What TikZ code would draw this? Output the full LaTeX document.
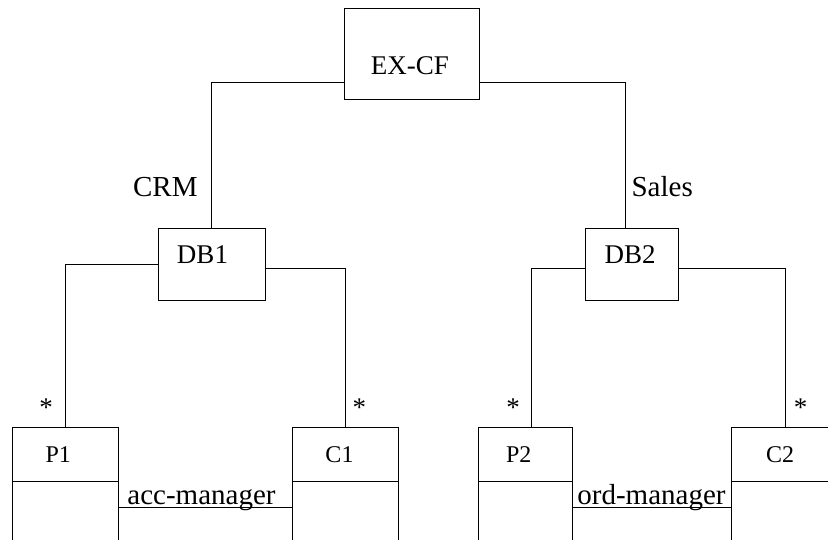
\documentclass[tikz,border=0pt]{standalone}
\usepackage{fontspec}
\setmainfont{Liberation Serif}
\begin{document}
\begin{tikzpicture}[x=1pt,y=-1pt,
  line width=1pt,
  boxnode/.style={draw, line width=1pt, inner sep=0pt, anchor=north west},
  boxtext/.style={inner sep=0pt, anchor=base, font=\fontsize{27}{32}\selectfont},
  classtext/.style={inner sep=0pt, anchor=base, font=\fontsize{24}{29}\selectfont},
  edgetext/.style={inner sep=0pt, anchor=base, font=\fontsize{29}{34}\selectfont},
  startext/.style={inner sep=0pt, anchor=base, font=\fontsize{27}{32}\selectfont},
  conn/.style={draw, line width=1pt}]
\useasboundingbox (0,0) rectangle (828,540);
\clip (0,0) rectangle (828,540);

% boxes
\node[boxnode, minimum width=134.4pt, minimum height=91pt] (excf) at (344.3,7.7) {};
\node[boxnode, minimum width=107.3pt, minimum height=72.3pt] (db1) at (157.7,227.7) {};
\node[boxnode, minimum width=93.6pt, minimum height=72.3pt] (db2) at (584.7,227.7) {};
\node[boxnode, minimum width=106.3pt, minimum height=152.7pt] (p1) at (11.7,427.3) {};
\node[boxnode, minimum width=106.6pt, minimum height=152.7pt] (c1) at (291.7,427.3) {};
\node[boxnode, minimum width=93.7pt, minimum height=152.7pt] (p2) at (478,427.3) {};
\node[boxnode, minimum width=107.4pt, minimum height=152.7pt] (c2) at (731.3,427.3) {};

% class dividers
\foreach \n in {p1,c1,p2,c2}{
  \draw ([yshift=-53.7pt]\n.north west) -- ([yshift=-53.7pt]\n.north east);
}

% box texts
\node[boxtext] (texcf) at (410,75) {EX-CF};
\node[boxtext] (tdb1) at (202.5,263.3) {DB1};
\node[boxtext] (tdb2) at (630.2,263.3) {DB2};
\node[classtext] (tp1) at (58.3,462.7) {P1};
\node[classtext] (tc1) at (339.5,462.7) {C1};
\node[classtext] (tp2) at (518.8,462.7) {P2};
\node[classtext] (tc2) at (780.2,462.7) {C2};

% connectors
\draw[conn] ([yshift=-29.1pt]excf.west) -| (db1.north);
\draw[conn] ([yshift=-29.1pt]excf.east) -| ([xshift=-6.9pt]db2.north);
\draw[conn] (db1.west) -| (p1.north);
\draw[conn] ([yshift=-4pt]db1.east) -| (c1.north);
\draw[conn] ([yshift=-4pt]db2.west) -| ([xshift=6.5pt]p2.north);
\draw[conn] ([yshift=-4pt]db2.east) -| (c2.north);
\draw[conn] ([yshift=-80pt]p1.north east) -- ([yshift=-80pt]c1.north west);
\draw[conn] ([yshift=-80pt]p2.north east) -- ([yshift=-80pt]c2.north west);

% edge labels
\node[edgetext] (lcrm) at (165.3,196.7) {CRM};
\node[edgetext] (lsales) at (662.2,196.7) {Sales};
\node[edgetext] (lacc) at (201.5,504) {acc-manager};
\node[edgetext] (lord) at (651.5,504) {ord-manager};

% multiplicities
\node[startext] (s1) at (46,416.5) {*};
\node[startext] (s2) at (359.3,416.5) {*};
\node[startext] (s3) at (513,416.5) {*};
\node[startext] (s4) at (800.7,416.5) {*};
\end{tikzpicture}
\end{document}
